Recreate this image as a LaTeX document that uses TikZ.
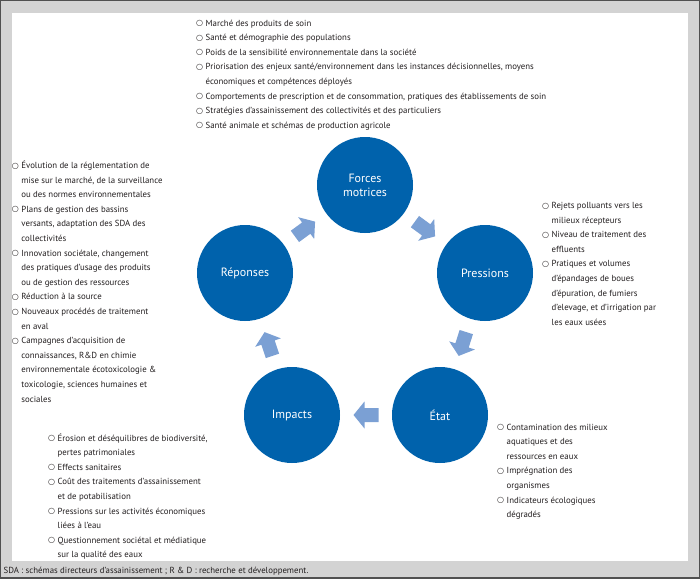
\documentclass[tikz,border=0pt]{standalone}
\usepackage{fontspec}
\setmainfont{PT Sans}
\newfontfamily\symf{DejaVu Sans}
\usetikzlibrary{calc}
\definecolor{circblue}{RGB}{0,98,172}
\definecolor{arrblue}{RGB}{123,160,212}
\definecolor{framegray}{RGB}{211,211,211}
\definecolor{edgegray}{RGB}{80,80,80}
\definecolor{txt}{RGB}{35,31,32}
\newcommand{\bl}{\strut\makebox[9.5pt][l]{\raisebox{0.3pt}{\symf\fontsize{8}{8}\selectfont ○}}}
\newcommand{\ct}{\strut\hspace*{9.5pt}}
\newcommand{\blockarrow}[2]{%
  \coordinate (mid#1#2) at ($(#1)!0.5!(#2)$);
  \coordinate (tl#1#2) at ($(mid#1#2)!-12.5pt!(#2)$);
  \coordinate (hb#1#2) at ($(mid#1#2)!1.5pt!(#2)$);
  \coordinate (tip#1#2) at ($(mid#1#2)!12.5pt!(#2)$);
  \fill[arrblue] ($(tl#1#2)!7pt!90:(#2)$) -- ($(hb#1#2)!7pt!90:(#2)$) -- ($(hb#1#2)!13.5pt!90:(#2)$) -- (tip#1#2)
    -- ($(hb#1#2)!13.5pt!-90:(#2)$) -- ($(hb#1#2)!7pt!-90:(#2)$) -- ($(tl#1#2)!7pt!-90:(#2)$) -- cycle;
}
\tikzset{
  stage/.style={circle, fill=circblue, minimum size=96pt, inner sep=0pt, text=white, align=center,
    font=\fontsize{12}{14}\selectfont},
  textblk/.style={inner sep=0pt, anchor=north west, align=left, text=txt,
    font=\fontsize{8.8}{14.6}\selectfont},
}
\begin{document}
\begin{tikzpicture}[x=1pt,y=-1pt]
\useasboundingbox (0,0) rectangle (700,578);
\fill[framegray] (0,0) rectangle (700,578);
\draw[edgegray, line width=2.4pt] (0,0) rectangle (700,578);
\fill[white] (12,13.5) rectangle (688,561);

\node[stage] (F) at (365,185) {Forces\\motrices};
\node[stage] (P) at (485,273) {Pressions};
\node[stage] (E) at (440,415) {État};
\node[stage] (I) at (292,415) {Impacts};
\node[stage] (R) at (245,273) {Réponses};

\blockarrow{F}{P}
\blockarrow{P}{E}
\blockarrow{E}{I}
\blockarrow{I}{R}
\blockarrow{R}{F}

\node[textblk] (tF) at (196,15.6) {%
\bl Marché des produits de soin\\
\bl Santé et démographie des populations\\
\bl Poids de la sensibilité environnementale dans la société\\
\bl Priorisation des enjeux santé/environnement dans les instances décisionnelles, moyens\\
\ct économiques et compétences déployés\\
\bl Comportements de prescription et de consommation, pratiques des établissements de soin\\
\bl Stratégies d’assainissement des collectivités et des particuliers\\
\bl Santé animale et schémas de production agricole};

\node[textblk] (tR) at (11.7,158) {%
\bl Évolution de la réglementation de\\
\ct mise sur le marché, de la surveillance\\
\ct ou des normes environnementales\\
\bl Plans de gestion des bassins\\
\ct versants, adaptation des SDA des\\
\ct collectivités\\
\bl Innovation sociétale, changement\\
\ct des pratiques d’usage des produits\\
\ct ou de gestion des ressources\\
\bl Réduction à la source\\
\bl Nouveaux procédés de traitement\\
\ct en aval\\
\bl Campagnes d’acquisition de\\
\ct connaissances, R\&D en chimie\\
\ct environnementale écotoxicologie \&\\
\ct toxicologie, sciences humaines et\\
\ct sociales};

\node[textblk] (tP) at (542,198) {%
\bl Rejets polluants vers les\\
\ct milieux récepteurs\\
\bl Niveau de traitement des\\
\ct effluents\\
\bl Pratiques et volumes\\
\ct d’épandages de boues\\
\ct d’épuration, de fumiers\\
\ct d’elevage, et d’irrigation par\\
\ct les eaux usées};

\node[textblk] (tE) at (497,419.6) {%
\bl Contamination des milieux\\
\ct aquatiques et des\\
\ct ressources en eaux\\
\bl Imprégnation des\\
\ct organismes\\
\bl Indicateurs écologiques\\
\ct dégradés};

\node[textblk] (tI) at (48,430.6) {%
\bl Érosion et déséquilibres de biodiversité,\\
\ct pertes patrimoniales\\
\bl Effects sanitaires\\
\bl Coût des traitements d’assainissement\\
\ct et de potabilisation\\
\bl Pressions sur les activités économiques\\
\ct liées à l’eau\\
\bl Questionnement sociétal et médiatique\\
\ct sur la qualité des eaux};

\node[anchor=base west, inner sep=0pt, text=txt, font=\fontsize{8.8}{10}\selectfont] (foot) at (3.5,573)
  {SDA : schémas directeurs d’assainissement ; R \& D : recherche et développement.};
\end{tikzpicture}
\end{document}
